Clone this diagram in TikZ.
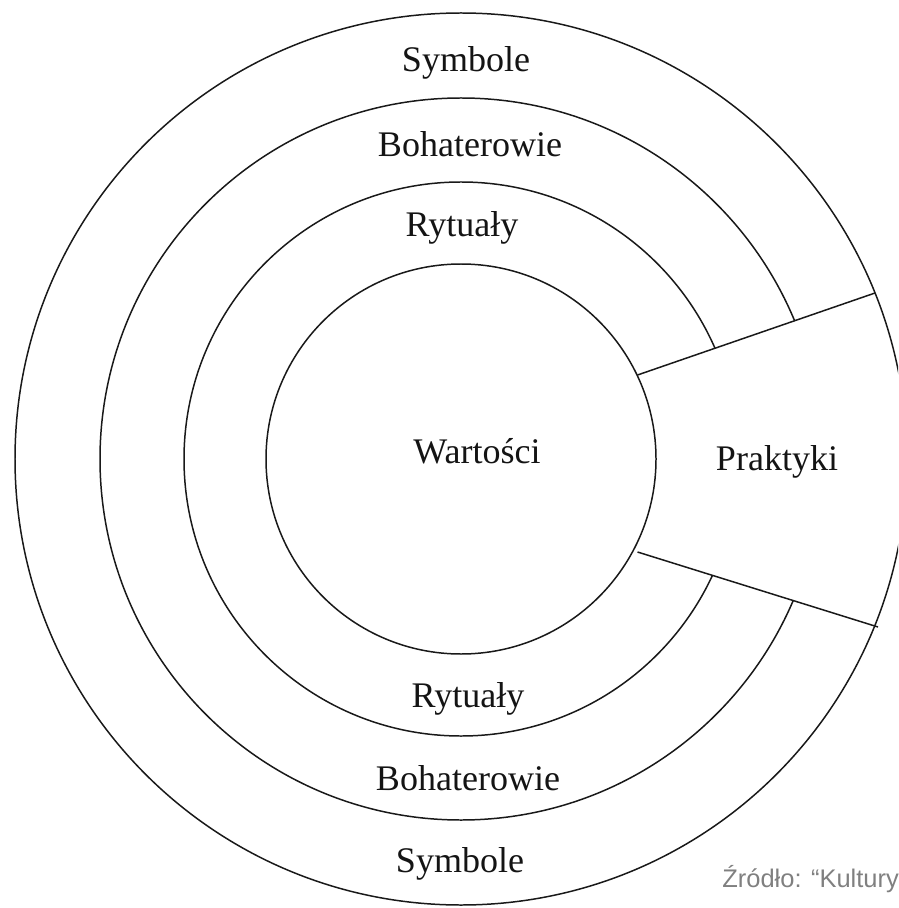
\documentclass[tikz,border=0pt]{standalone}
\usepackage{fontspec}
\setmainfont{Liberation Serif}
\newfontfamily\srcfont{Liberation Sans}
\begin{document}
\begin{tikzpicture}[x=0.02cm,y=-0.02cm,
  ring/.style={draw=black!90,line width=0.85pt},
  lbl/.style={anchor=base,inner sep=0pt,font=\fontsize{20.5}{24}\selectfont,text=black!92},
  src/.style={anchor=base west,inner sep=0pt,font=\srcfont\fontsize{14.5}{17}\selectfont,text=black!50}]
\useasboundingbox (0,0) rectangle (898,908);
\clip (0,0) rectangle (898,908);
\coordinate (c) at (461,459);
% outer and inner circles
\draw[ring] (c) circle[radius=446];
\draw[ring] (c) circle[radius=195];
% middle rings interrupted by the Praktyki wedge
\begin{scope}
  \clip (-10,-10) -- (1000,-10) -- (1000,250) -- (638,375) -- (638,552) -- (1000,666) -- (1000,1000) -- (-10,1000) -- cycle;
  \draw[ring] (c) circle[radius=361];
  \draw[ring] (c) circle[radius=277];
\end{scope}
% wedge borders
\coordinate (ui) at (637.5,375);
\coordinate (uo) at (875,293);
\coordinate (li) at (637.5,552);
\coordinate (lo) at (878,627);
\draw[ring] (ui) -- (uo);
\draw[ring] (li) -- (lo);
% labels
\node[lbl] (s1) at (466,72) {Symbole};
\node[lbl] (b1) at (470,157) {Bohaterowie};
\node[lbl] (r1) at (462,237) {Rytuały};
\node[lbl] (w) at (477,463) {Wartości};
\node[lbl] (p) at (777,470) {Praktyki};
\node[lbl] (r2) at (468,707) {Rytuały};
\node[lbl] (b2) at (468,790) {Bohaterowie};
\node[lbl] (s2) at (460,872) {Symbole};
\node[src] (zr) at (722,887) {Źródło: “Kultury};
\end{tikzpicture}
\end{document}
